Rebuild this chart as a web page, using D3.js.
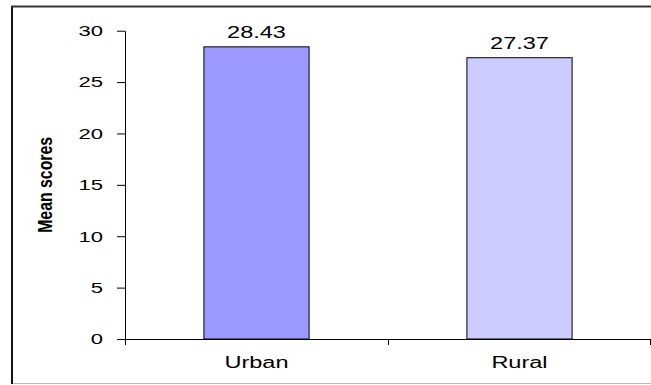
<!DOCTYPE html>
<html>
<head>
<meta charset="utf-8">
<script src="https://cdn.jsdelivr.net/npm/d3@7"></script>
<style>
  body { margin: 0; background: #fff; }
  svg { display: block; font-family: "Liberation Sans", Arial, sans-serif; }
</style>
</head>
<body>
<svg id="chart"></svg>
<script>
const categories = ["Urban", "Rural"];
const meanScores = [28.43, 27.37];
const barColors = ["#9999ff", "#ccccff"];
const yTicks = [0, 5, 10, 15, 20, 25, 30];
const yTitle = "Mean scores";

const width = 651, height = 385;
const plot = { left: 125, right: 651, top: 30.7, bottom: 339 };
const stretch = 1.47; // text in the picture is wider than normal Arial

const svg = d3.select("#chart")
  .attr("width", width)
  .attr("height", height);

// outer frame (right edge is cut off in the picture)
svg.append("line").attr("x1", 12).attr("x2", 12).attr("y1", 6).attr("y2", 384)
  .attr("stroke", "#111").attr("stroke-width", 2);
svg.append("line").attr("x1", 11).attr("x2", width).attr("y1", 6.5).attr("y2", 6.5)
  .attr("stroke", "#333").attr("stroke-width", 2);
svg.append("line").attr("x1", 13).attr("x2", width).attr("y1", 383.5).attr("y2", 383.5)
  .attr("stroke", "#bbb").attr("stroke-width", 1);

const x = d3.scaleBand()
  .domain(categories)
  .range([plot.left, plot.right])
  .paddingInner(0.6)
  .paddingOuter(0.3);

const y = d3.scaleLinear()
  .domain([0, 30])
  .range([plot.bottom, plot.top]);

function widen(sel) {
  sel.each(function () {
    const w = this.getComputedTextLength();
    d3.select(this).attr("textLength", w * stretch).attr("lengthAdjust", "spacingAndGlyphs");
  });
}

// bars
svg.append("g")
  .selectAll("rect")
  .data(categories)
  .join("rect")
  .attr("x", d => x(d))
  .attr("y", (d, i) => y(meanScores[i]))
  .attr("width", x.bandwidth())
  .attr("height", (d, i) => y(0) - y(meanScores[i]))
  .attr("fill", (d, i) => barColors[i])
  .attr("stroke", "#000")
  .attr("stroke-width", 1);

// value labels
svg.append("g")
  .selectAll("text")
  .data(categories)
  .join("text")
  .attr("x", d => x(d) + x.bandwidth() / 2)
  .attr("y", (d, i) => y(meanScores[i]) - 9)
  .attr("text-anchor", "middle")
  .style("font-size", "16px")
  .attr("fill", "#000")
  .text((d, i) => meanScores[i].toFixed(2))
  .call(widen);

// Y axis
const yAxis = svg.append("g")
  .attr("transform", "translate(" + plot.left + ",0)")
  .call(d3.axisLeft(y).tickValues(yTicks).tickSize(8).tickSizeOuter(0).tickPadding(14));
yAxis.selectAll("text").style("font-size", "15px").attr("fill", "#000").call(widen);
yAxis.selectAll("line, path").attr("stroke", "#000");

// X axis: ticks at the category boundaries
const xb = d3.scaleLinear().domain([0, categories.length]).range([plot.left, plot.right]);
const xAxis = svg.append("g")
  .attr("transform", "translate(0," + plot.bottom + ")")
  .call(d3.axisBottom(xb).tickValues(d3.range(categories.length + 1)).tickFormat("").tickSize(6).tickSizeOuter(0));
xAxis.selectAll("line, path").attr("stroke", "#000");
xAxis.selectAll(".tick:last-of-type line").attr("transform", "translate(-1,0)");

// category labels
svg.append("g")
  .selectAll("text")
  .data(categories)
  .join("text")
  .attr("x", d => x(d) + x.bandwidth() / 2)
  .attr("y", 368)
  .attr("text-anchor", "middle")
  .style("font-size", "16px")
  .attr("fill", "#000")
  .text(d => d)
  .call(widen);

// Y title (rotated, glyphs stretched across like the rest of the text)
svg.append("text")
  .attr("transform", "translate(52," + ((plot.top + plot.bottom) / 2) + ") rotate(-90) scale(1,1.15)")
  .attr("text-anchor", "middle")
  .style("font-size", "17px")
  .style("font-weight", "bold")
  .attr("textLength", 96)
  .attr("lengthAdjust", "spacingAndGlyphs")
  .attr("fill", "#000")
  .text(yTitle);
</script>
</body>
</html>
